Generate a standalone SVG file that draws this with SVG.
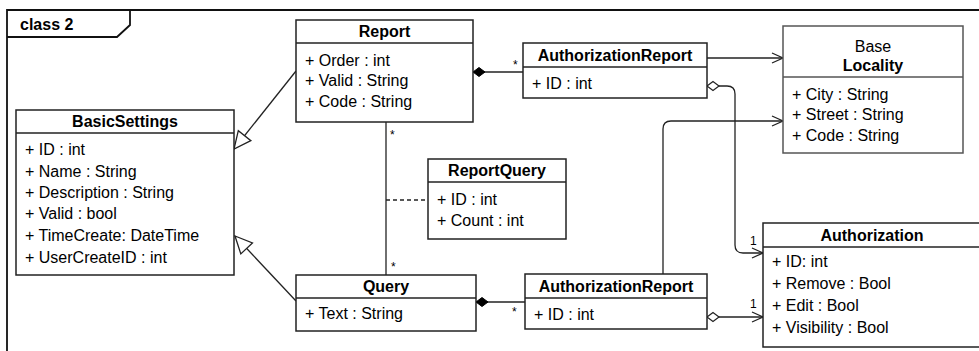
<svg xmlns="http://www.w3.org/2000/svg" width="979" height="351" viewBox="0 0 979 351">
  <style>
    text { font-family: "Liberation Sans", Arial, Helvetica, sans-serif; fill: #000; }
    .title { font-size: 16px; font-weight: bold; text-anchor: middle; }
    .plain-title { font-size: 16px; text-anchor: middle; }
    .attr { font-size: 16px; }
    .mult { font-size: 12px; }
    .box { fill: #fff; stroke: #222; stroke-width: 1.5; }
    .sep { stroke: #222; stroke-width: 1.5; }
    .frame { fill: none; stroke: #111; stroke-width: 1.8; }
    .edge { fill: none; stroke: #222; stroke-width: 1.3; }
    .dash { stroke-dasharray: 4 3; }
  </style>
  <defs>
    <marker id="gen" markerUnits="userSpaceOnUse" orient="auto" overflow="visible" refX="0" refY="0">
      <path d="M-17,-8 L0,0 L-17,8 Z" fill="#fff" stroke="#222" stroke-width="1.3"/>
    </marker>
    <marker id="open" markerUnits="userSpaceOnUse" orient="auto" overflow="visible" refX="0" refY="0">
      <path d="M-11,-5 L0,0 L-11,5" fill="none" stroke="#222" stroke-width="1.3"/>
    </marker>
    <marker id="comp" markerUnits="userSpaceOnUse" orient="auto" overflow="visible" refX="0" refY="0">
      <path d="M0,0 L6,-4.5 L12,0 L6,4.5 Z" fill="#000" stroke="#000" stroke-width="1"/>
    </marker>
    <marker id="aggr" markerUnits="userSpaceOnUse" orient="auto" overflow="visible" refX="0" refY="0">
      <path d="M0,0 L6,-4.5 L12,0 L6,4.5 Z" fill="#fff" stroke="#222" stroke-width="1.2"/>
    </marker>
  </defs>

  <!-- diagram frame with name tab -->
  <g id="frame">
    <path class="frame" d="M7,360 V10 H990"/>
    <path class="frame" d="M7,37 H117 L130,25 V10"/>
    <text x="20" y="30" style="font-size:16px;font-weight:bold">class 2</text>
  </g>

  <!-- connectors -->
  <g id="connectors">
    <path class="edge" d="M296,71 L234,149" marker-end="url(#gen)"/>
    <path class="edge" d="M296,301 L235,236" marker-end="url(#gen)"/>
    <path class="edge" d="M386,122 V275"/>
    <path class="edge dash" d="M386,200 H428"/>
    <path class="edge" d="M473,72 H523" marker-start="url(#comp)"/>
    <path class="edge" d="M707,58 H783" marker-end="url(#open)"/>
    <path class="edge" d="M707,86 H727 Q735,86 735,94 V245 Q735,253 743,253 H763" marker-start="url(#aggr)" marker-end="url(#open)"/>
    <path class="edge" d="M663,274 V129 Q663,121 671,121 H783" marker-end="url(#open)"/>
    <path class="edge" d="M476,302 H525" marker-start="url(#comp)"/>
    <path class="edge" d="M707,317 H763" marker-start="url(#aggr)" marker-end="url(#open)"/>

    <text class="mult" x="390" y="139">*</text>
    <text class="mult" x="391" y="271">*</text>
    <text class="mult" x="513" y="69">*</text>
    <text class="mult" x="512" y="316">*</text>
    <text class="mult" x="750" y="245">1</text>
    <text class="mult" x="750" y="308">1</text>
  </g>

  <g id="BasicSettings">
    <rect class="box" x="16" y="110" width="218" height="165"/>
    <line class="sep" x1="16" y1="133" x2="234" y2="133"/>
    <text class="title" x="125" y="127">BasicSettings</text>
    <text class="attr" x="25" y="155">+ ID : int</text>
    <text class="attr" x="25" y="177">+ Name : String</text>
    <text class="attr" x="25" y="198">+ Description : String</text>
    <text class="attr" x="25" y="219">+ Valid : bool</text>
    <text class="attr" x="25" y="241">+ TimeCreate: DateTime</text>
    <text class="attr" x="25" y="263">+ UserCreateID : int</text>
  </g>

  <g id="Report">
    <rect class="box" x="296" y="20" width="177" height="102"/>
    <line class="sep" x1="296" y1="43" x2="473" y2="43"/>
    <text class="title" x="384.5" y="37">Report</text>
    <text class="attr" x="305" y="66">+ Order : int</text>
    <text class="attr" x="305" y="86">+ Valid : String</text>
    <text class="attr" x="305" y="107">+ Code : String</text>
  </g>

  <g id="ReportQuery">
    <rect class="box" x="428" y="159" width="138" height="80"/>
    <line class="sep" x1="428" y1="182" x2="566" y2="182"/>
    <text class="title" x="497" y="176">ReportQuery</text>
    <text class="attr" x="437" y="205">+ ID : int</text>
    <text class="attr" x="437" y="226">+ Count : int</text>
  </g>

  <g id="Query">
    <rect class="box" x="296" y="275" width="180" height="56"/>
    <line class="sep" x1="296" y1="298" x2="476" y2="298"/>
    <text class="title" x="386" y="292">Query</text>
    <text class="attr" x="305" y="319">+ Text : String</text>
  </g>

  <g id="AuthorizationReportTop">
    <rect class="box" x="523" y="43" width="184" height="55"/>
    <line class="sep" x1="523" y1="67" x2="707" y2="67"/>
    <text class="title" x="615" y="61">AuthorizationReport</text>
    <text class="attr" x="532" y="89">+ ID : int</text>
  </g>

  <g id="AuthorizationReportBottom">
    <rect class="box" x="525" y="274" width="182" height="55"/>
    <line class="sep" x1="525" y1="298" x2="707" y2="298"/>
    <text class="title" x="616" y="292">AuthorizationReport</text>
    <text class="attr" x="534" y="320">+ ID : int</text>
  </g>

  <g id="Locality">
    <rect class="box" x="783" y="26" width="180" height="127" style="stroke:#555"/>
    <line class="sep" x1="783" y1="77" x2="963" y2="77" style="stroke:#555"/>
    <text class="plain-title" x="873" y="52">Base</text>
    <text class="title" x="873" y="71">Locality</text>
    <text class="attr" x="792" y="100">+ City : String</text>
    <text class="attr" x="792" y="120">+ Street : String</text>
    <text class="attr" x="792" y="141">+ Code : String</text>
  </g>

  <g id="Authorization">
    <rect class="box" x="763" y="223" width="219" height="124"/>
    <line class="sep" x1="763" y1="247" x2="982" y2="247"/>
    <text class="title" x="872" y="241">Authorization</text>
    <text class="attr" x="772" y="267">+ ID: int</text>
    <text class="attr" x="772" y="289">+ Remove : Bool</text>
    <text class="attr" x="772" y="311">+ Edit : Bool</text>
    <text class="attr" x="772" y="333">+ Visibility : Bool</text>
  </g>
</svg>
